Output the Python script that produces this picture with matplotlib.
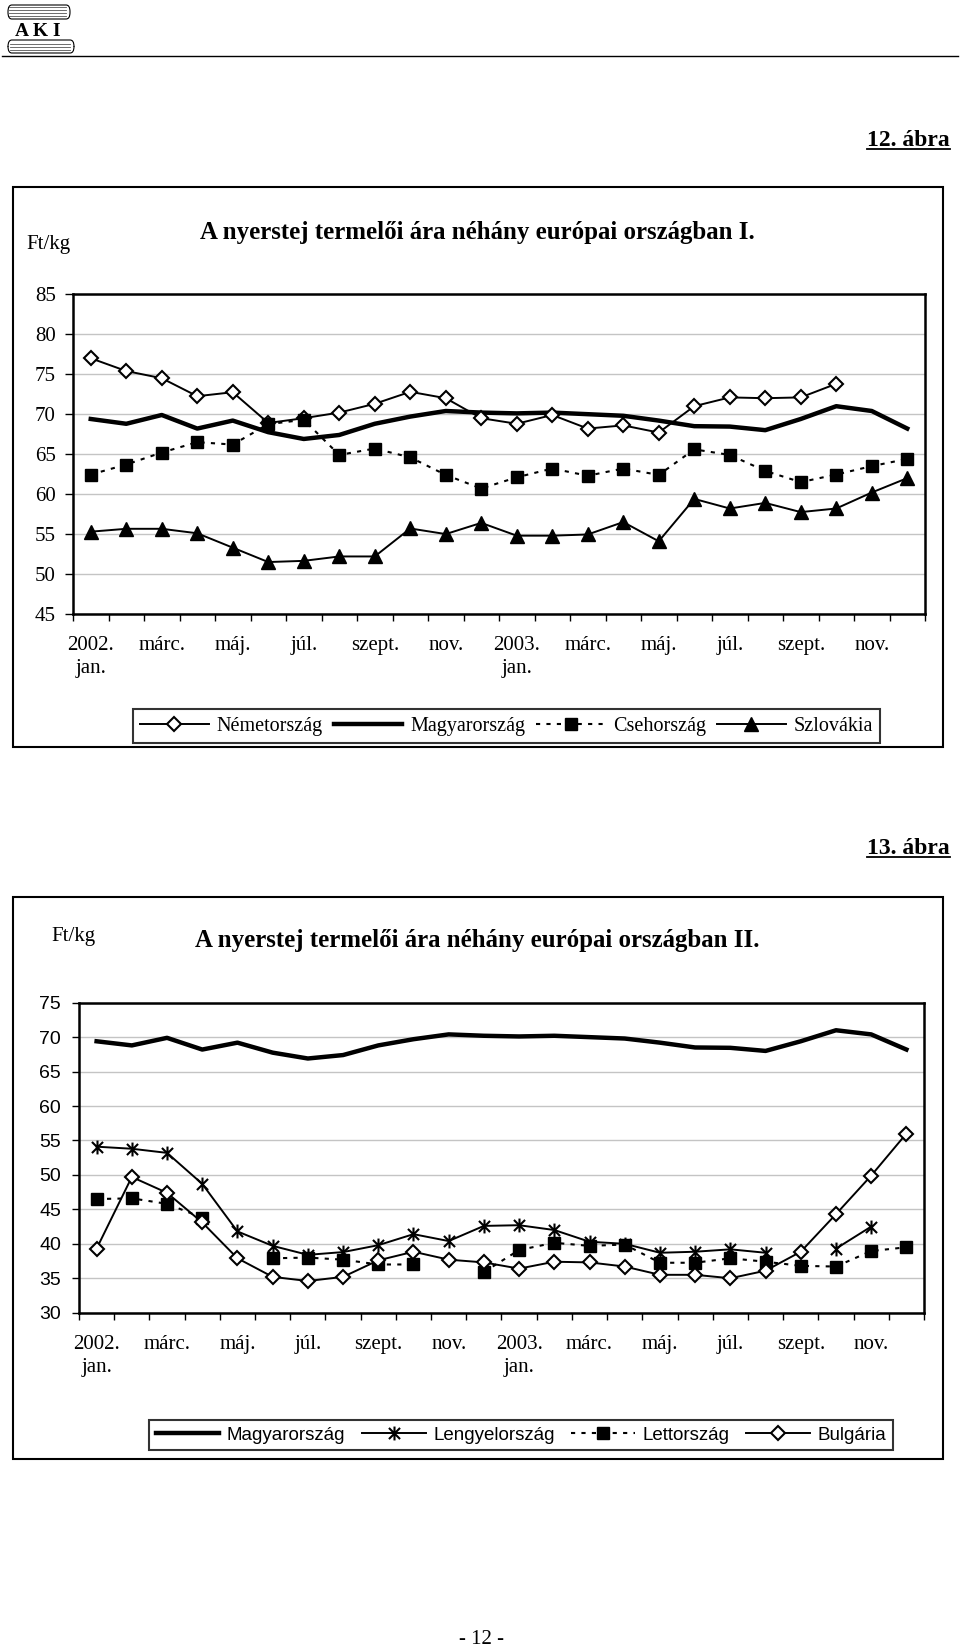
import numpy as np
import matplotlib
matplotlib.use('Agg')
import matplotlib.pyplot as plt
from matplotlib.patches import Rectangle, FancyBboxPatch
from matplotlib.lines import Line2D
from matplotlib.path import Path

nan = np.nan
months = list(range(1, 25))
tick_labels = ['2002.\njan.', 'márc.', 'máj.', 'júl.', 'szept.', 'nov.',
               '2003.\njan.', 'márc.', 'máj.', 'júl.', 'szept.', 'nov.']

# Chart I
germany = [77.0, 75.4, 74.5, 72.25, 72.75, 68.9, 69.5, 70.2, 71.3, 72.8, 72.0, 69.5,
           68.8, 69.9, 68.2, 68.6, 67.7, 71.0, 72.1, 72.0, 72.1, 73.8, nan, nan]
hungary = [69.4, 68.8, 69.9, 68.2, 69.2, 67.75, 66.9, 67.4, 68.8, 69.7, 70.4, 70.2,
           70.1, 70.2, 70.0, 69.8, 69.2, 68.5, 68.45, 68.0, 69.4, 71.0, 70.4, 68.2]
czech = [62.45, 63.7, 65.2, 66.5, 66.2, 68.75, 69.3, 64.9, 65.7, 64.6, 62.4, 60.7,
         62.1, 63.2, 62.3, 63.2, 62.4, 65.6, 64.9, 62.9, 61.5, 62.45, 63.5, 64.4]
slovakia = [55.3, 55.66, 55.66, 55.1, 53.3, 51.5, 51.65, 52.2, 52.2, 55.7, 55.0, 56.4,
            54.8, 54.8, 54.95, 56.5, 54.1, 59.4, 58.2, 58.9, 57.75, 58.2, 60.2, 62.0]

# Chart II
poland = [54.1, 53.8, 53.2, 48.7, 41.8, 39.7, 38.4, 38.8, 39.8, 41.4, 40.4, 42.6,
          42.7, 42.0, 40.3, 40.0, 38.7, 38.85, 39.2, 38.7, nan, 39.3, 42.5, nan]
latvia = [46.5, 46.6, 45.8, 43.8, nan, 37.9, 38.0, 37.7, 37.0, 37.0, nan, 35.9,
          39.1, 40.15, 39.7, 39.9, 37.25, 37.25, 37.9, 37.4, 36.8, 36.7, 38.95, 39.5]
bulgaria = [39.3, 49.7, 47.4, 43.1, 37.9, 35.2, 34.6, 35.2, 37.6, 38.85, 37.7, 37.3,
            36.4, 37.4, 37.3, 36.7, 35.5, 35.5, 35.0, 36.1, 38.85, 44.3, 49.9, 56.0]

names1 = ['Németország', 'Magyarország', 'Csehország', 'Szlovákia']
names2 = ['Magyarország', 'Lengyelország', 'Lettország', 'Bulgária']

W, H = 960, 1650
fig = plt.figure(figsize=(9.6, 16.5), dpi=100)
fig.patch.set_facecolor('white')

SERIF = 'Liberation Serif'
SANS = 'Liberation Sans'


def rect(l, t, r, b):
    return [l / W, 1 - b / H, (r - l) / W, (b - t) / H]


def fx(x):
    return x / W


def fy(y):
    return 1 - y / H


def box(l, t, r, b, lw=1.5):
    fig.patches.append(Rectangle((fx(l), fy(b)), (r - l) / W, (b - t) / H,
                                 transform=fig.transFigure, fill=False,
                                 edgecolor='black', lw=lw))


def hline(x0, x1, y, lw=1.0, color='black'):
    fig.lines.append(Line2D([fx(x0), fx(x1)], [fy(y), fy(y)],
                            transform=fig.transFigure, color=color, lw=lw))


ast_path = Path([(0, -1), (0, 1), (-0.8, -0.8), (0.8, 0.8), (-0.8, 0.8), (0.8, -0.8)],
                [Path.MOVETO, Path.LINETO] * 3)


def setup(ax, ylo, yhi, yfont, ysize, ypad, ylen):
    ax.set_xlim(0.5, 24.5)
    ax.set_ylim(ylo, yhi)
    ax.set_yticks(np.arange(ylo, yhi + 1, 5))
    ax.yaxis.grid(True, color='#c4c4c4', lw=1.0)
    ax.set_axisbelow(True)
    ax.set_xticks(np.arange(0.5, 25, 1))
    ax.set_xticklabels([])
    ax.set_xticks(np.arange(1, 25, 2), minor=True)
    ax.set_xticklabels(tick_labels, minor=True, fontfamily=SERIF, fontsize=15,
                       linespacing=1.3, va='top')
    ax.tick_params(axis='x', which='minor', length=0, pad=16)
    ax.tick_params(axis='x', which='major', length=5, width=1.0, direction='out')
    ax.tick_params(axis='y', length=ylen, width=1.0, direction='out', pad=ypad)
    for lab in ax.get_yticklabels():
        lab.set_fontfamily(yfont)
        lab.set_fontsize(ysize)
    for s in ax.spines.values():
        s.set_linewidth(1.8)
        s.set_color('black')


# ---------------- header ----------------
hline(2, 958, 56, lw=1.0)
# simple AKI logo
for yy in [7, 10, 13, 16]:
    hline(9, 66, yy, lw=0.6, color='#555555')
fig.patches.append(FancyBboxPatch((fx(8), fy(19)), 62 / W, 14 / H,
                                  boxstyle='round,pad=0,rounding_size=0.004',
                                  transform=fig.transFigure, fill=False,
                                  edgecolor='black', lw=0.8))
fig.text(fx(38), fy(32), 'A K I', fontfamily=SERIF, fontweight='bold', fontsize=14,
         ha='center', va='center')
fig.patches.append(FancyBboxPatch((fx(8), fy(53)), 66 / W, 13 / H,
                                  boxstyle='round,pad=0,rounding_size=0.004',
                                  transform=fig.transFigure, fill=False,
                                  edgecolor='black', lw=0.8))
for yy in [44, 47, 50]:
    hline(10, 70, yy, lw=0.6, color='#555555')

t12 = fig.text(fx(950), fy(140), '12. ábra', fontfamily=SERIF, fontweight='bold',
               fontsize=17, ha='right', va='center')
t13 = fig.text(fx(950), fy(848), '13. ábra', fontfamily=SERIF, fontweight='bold',
               fontsize=17, ha='right', va='center')

# ---------------- chart I ----------------
box(13, 187, 943, 747)
fig.text(fx(26), fy(244), 'Ft/kg', fontfamily=SERIF, fontsize=15, ha='left', va='center')
fig.text(fx(477), fy(233), 'A nyerstej termelői ára néhány európai országban I.',
         fontfamily=SERIF, fontweight='bold', fontsize=17.9, ha='center', va='center')

ax1 = fig.add_axes(rect(73, 294.3, 925, 614))
ax1.plot(months, hungary, color='black', lw=3.2, zorder=3)
ax1.plot(months, germany, color='black', lw=1.4, marker='D', ms=7, mfc='white',
         mec='black', mew=1.5, zorder=4)
ax1.plot(months, czech, color='black', lw=1.5, ls=(0, (2, 3)), marker='s', ms=9,
         mfc='black', mec='black', zorder=4)
ax1.plot(months, slovakia, color='black', lw=1.4, marker='^', ms=9.5,
         mfc='black', mec='black', zorder=4)
setup(ax1, 45, 85, SERIF, 15, 6.5, 6)

h1 = [Line2D([], [], color='black', lw=1.4, marker='D', ms=7, mfc='white', mew=1.5),
      Line2D([], [], color='black', lw=3.2),
      Line2D([], [], color='black', lw=1.5, ls=(0, (2, 3)), marker='s', ms=9),
      Line2D([], [], color='black', lw=1.4, marker='^', ms=9.5)]
x0, y0, x1, y1 = 133, 707, 880, 745
leg1 = fig.legend(h1, names1, loc='center', ncol=4, mode='expand',
                  bbox_to_anchor=(fx(x0), fy(y1), (x1 - x0) / W, (y1 - y0) / H),
                  borderaxespad=0, frameon=True, fancybox=False, edgecolor='black',
                  handlelength=3.4, handletextpad=0.4, columnspacing=0.6,
                  borderpad=0.35, prop={'family': SERIF, 'size': 14.5})
leg1.get_frame().set_linewidth(1.5)

# ---------------- chart II ----------------
box(13, 897, 943, 1459)
fig.text(fx(51), fy(937), 'Ft/kg', fontfamily=SERIF, fontsize=15, ha='left', va='center')
fig.text(fx(477), fy(940), 'A nyerstej termelői ára néhány európai országban II.',
         fontfamily=SERIF, fontweight='bold', fontsize=17.9, ha='center', va='center')

ax2 = fig.add_axes(rect(79, 1002.7, 924, 1312.7))
ax2.plot(months, hungary, color='black', lw=3.2, zorder=3)
ax2.plot(months, poland, color='black', lw=1.4, marker=ast_path, ms=10, mfc='none',
         mec='black', mew=1.5, zorder=4)
ax2.plot(months, latvia, color='black', lw=1.5, ls=(0, (2, 3)), marker='s', ms=9,
         mfc='black', mec='black', zorder=4)
ax2.plot(months, bulgaria, color='black', lw=1.4, marker='D', ms=7, mfc='white',
         mec='black', mew=1.5, zorder=5)
setup(ax2, 30, 75, SANS, 14, 8, 5)

h2 = [Line2D([], [], color='black', lw=3.2),
      Line2D([], [], color='black', lw=1.4, marker=ast_path, ms=10, mew=1.5),
      Line2D([], [], color='black', lw=1.5, ls=(0, (2, 3)), marker='s', ms=9),
      Line2D([], [], color='black', lw=1.4, marker='D', ms=7, mfc='white', mew=1.5)]
x0, y0, x1, y1 = 149, 1416, 893, 1454
leg2 = fig.legend(h2, names2, loc='center', ncol=4, mode='expand',
                  bbox_to_anchor=(fx(x0), fy(y1), (x1 - x0) / W, (y1 - y0) / H),
                  borderaxespad=0, frameon=True, fancybox=False, edgecolor='black',
                  handlelength=3.4, handletextpad=0.4, columnspacing=0.6,
                  borderpad=0.35, prop={'family': SANS, 'size': 13.5})
leg2.get_frame().set_linewidth(1.5)

# page number
fig.text(fx(481), fy(1639), '- 12 -', fontfamily=SERIF, fontsize=15,
         ha='center', va='center')

# underline figure labels
fig.canvas.draw()
r = fig.canvas.get_renderer()
for t in (t12, t13):
    bb = t.get_window_extent(r)
    ybase = bb.y0 + 2
    fig.lines.append(Line2D([bb.x0 / W, bb.x1 / W], [ybase / H, ybase / H],
                            transform=fig.transFigure, color='black', lw=1.3))

fig.savefig('out.png', dpi=100, facecolor='white')
